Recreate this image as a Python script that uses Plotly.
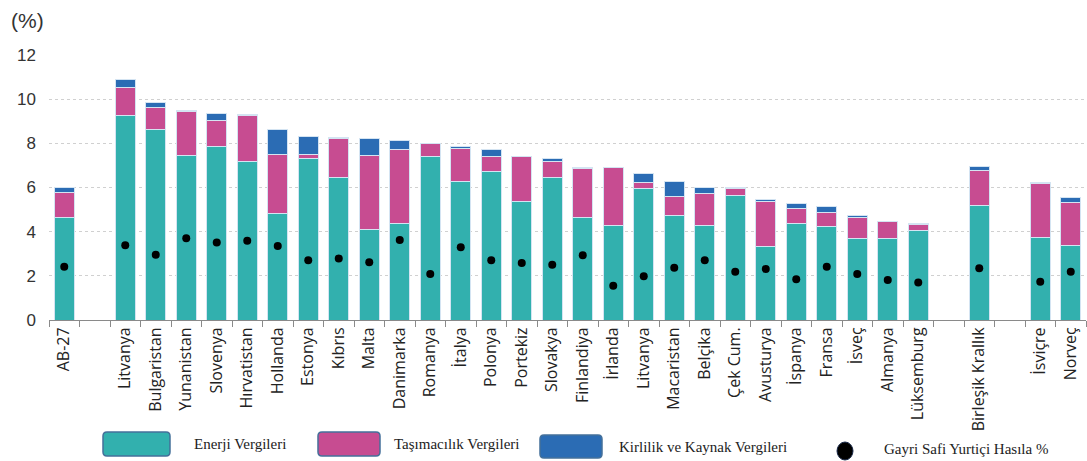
import plotly.graph_objects as go

categories = ["AB-27", "", "Litvanya", "Bulgaristan", "Yunanistan", "Slovenya", "Hırvatistan",
              "Hollanda", "Estonya", "Kıbrıs", "Malta", "Danimarka", "Romanya", "İtalya",
              "Polonya", "Portekiz", "Slovakya", "Finlandiya", "İrlanda", "Litvanya",
              "Macaristan", "Belçika", "Çek Cum.", "Avusturya", "İspanya", "Fransa", "İsveç",
              "Almanya", "Lüksemburg", "", "Birleşik Krallık", "", "İsviçre", "Norveç"]

enerji = [4.65, None, 9.24, 8.61, 7.45, 7.87, 7.16, 4.83, 7.30, 6.47, 4.12, 4.39, 7.42, 6.29,
          6.74, 5.35, 6.44, 4.62, 4.30, 5.94, 4.72, 4.30, 5.62, 3.35, 4.37, 4.25, 3.67,
          3.70, 4.06, None, 5.17, None, 3.74, 3.38]
tasimacilik = [1.14, None, 1.29, 1.01, 2.01, 1.15, 2.10, 2.68, 0.18, 1.75, 3.33, 3.33, 0.56, 1.49,
               0.66, 2.04, 0.75, 2.23, 2.59, 0.29, 0.86, 1.43, 0.35, 2.00, 0.70, 0.61, 0.98,
               0.77, 0.27, None, 1.60, None, 2.46, 1.93]
kirlilik = [0.21, None, 0.34, 0.21, 0.03, 0.32, 0.05, 1.13, 0.85, 0.05, 0.77, 0.42, 0.02, 0.06,
            0.32, 0.03, 0.13, 0.07, 0.02, 0.39, 0.68, 0.27, 0.05, 0.09, 0.21, 0.27, 0.10,
            0.01, 0.04, None, 0.20, None, 0.02, 0.22]
gsyh = [2.41, None, 3.38, 2.96, 3.70, 3.51, 3.59, 3.35, 2.71, 2.79, 2.61, 3.62, 2.08, 3.29,
        2.71, 2.58, 2.50, 2.93, 1.55, 1.98, 2.37, 2.71, 2.19, 2.31, 1.84, 2.41, 2.08,
        1.81, 1.70, None, 2.34, None, 1.73, 2.19]

series_names = ["Enerji Vergileri", "Taşımacılık Vergileri", "Kirlilik ve Kaynak Vergileri",
                "Gayri Safi Yurtiçi Hasıla %"]
yticks = [0, 2, 4, 6, 8, 10, 12]

TEAL = "#32B0AE"
PINK = "#C74C91"
BLUE = "#2B6CB4"

W, H = 1087, 461
ML, MR, MT, MB = 49, 1, 55, 141
PW, PH = W - ML - MR, H - MT - MB

x = list(range(len(categories)))

fig = go.Figure()
for vals, col, name in [(enerji, TEAL, series_names[0]), (tasimacilik, PINK, series_names[1]),
                        (kirlilik, BLUE, series_names[2])]:
    fig.add_trace(go.Bar(x=x, y=vals, name=name, width=0.65,
                         marker=dict(color=col, line=dict(color="#d4e4f2", width=1)),
                         showlegend=False))
fig.add_trace(go.Scatter(x=x, y=gsyh, mode="markers", name=series_names[3],
                         marker=dict(color="black", size=8), showlegend=False))

fig.update_layout(
    width=W, height=H, barmode="stack",
    margin=dict(l=ML, r=MR, t=MT, b=MB),
    paper_bgcolor="white", plot_bgcolor="white",
    font=dict(family="Open Sans", color="#333"),
)
fig.update_xaxes(
    range=[-0.5, len(categories) - 0.5],
    tickmode="array", tickvals=x, ticktext=categories, tickangle=-90,
    tickfont=dict(family="Open Sans", size=16, color="#222"),
    ticks="", showgrid=False, zeroline=False,
    showline=True, linecolor="#8a8a8a", linewidth=1,
    minor=dict(tickmode="linear", tick0=-0.5, dtick=1, ticks="outside", ticklen=6,
               tickcolor="#8a8a8a", showgrid=False),
)
fig.update_yaxes(
    range=[0, 12], tickvals=yticks, ticktext=[str(v) for v in yticks],
    tickfont=dict(family="Liberation Sans", size=17, color="#333"),
    ticklabelstandoff=12,
    showgrid=True, gridcolor="#d0d0d0", griddash="dot", gridwidth=1,
    zeroline=False, showline=False, ticks="",
)

def px2paper(px, py):
    return (px - ML) / PW, (H - MB - py) / PH

def rounded_rect(x0, y0, x1, y1, r=4):
    def P(a, b):
        u, v = px2paper(a, b)
        return f"{u:.5f},{v:.5f}"
    path = (f"M {P(x0 + r, y0)} L {P(x1 - r, y0)} Q {P(x1, y0)} {P(x1, y0 + r)} "
            f"L {P(x1, y1 - r)} Q {P(x1, y1)} {P(x1 - r, y1)} L {P(x0 + r, y1)} "
            f"Q {P(x0, y1)} {P(x0, y1 - r)} L {P(x0, y0 + r)} Q {P(x0, y0)} {P(x0 + r, y0)} Z")
    return path

legend_items = [
    (TEAL, (103, 432, 170, 456), (192, 444)),
    (PINK, (318, 432, 380, 456), (392, 444)),
    (BLUE, (540, 435, 602, 458), (617, 447)),
]
shapes = []
annotations = []
for (col, (a, b, c, d), (tx, ty)), name in zip(legend_items, series_names[:3]):
    shapes.append(dict(type="path", xref="paper", yref="paper", path=rounded_rect(a, b, c, d),
                       fillcolor=col, line=dict(color="#44709a", width=1.5)))
    u, v = px2paper(tx, ty)
    annotations.append(dict(x=u, y=v, xref="paper", yref="paper", text=name, showarrow=False,
                            xanchor="left", yanchor="middle",
                            font=dict(family="Liberation Serif", size=15, color="#222")))
ex0, ey0 = px2paper(837, 442)
ex1, ey1 = px2paper(853, 460)
shapes.append(dict(type="circle", xref="paper", yref="paper", x0=ex0, y0=ey1, x1=ex1, y1=ey0,
                   fillcolor="black", line=dict(color="#1a2a4a", width=1)))
u, v = px2paper(882, 449)
annotations.append(dict(x=u, y=v, xref="paper", yref="paper", text=series_names[3], showarrow=False,
                        xanchor="left", yanchor="middle",
                        font=dict(family="Liberation Serif", size=15, color="#222")))
u, v = px2paper(9, 20)
annotations.append(dict(x=u, y=v, xref="paper", yref="paper", text="(%)", showarrow=False,
                        xanchor="left", yanchor="middle",
                        font=dict(family="Liberation Sans", size=21, color="#333")))

fig.update_layout(shapes=shapes, annotations=annotations)
fig.write_html("out.html")
